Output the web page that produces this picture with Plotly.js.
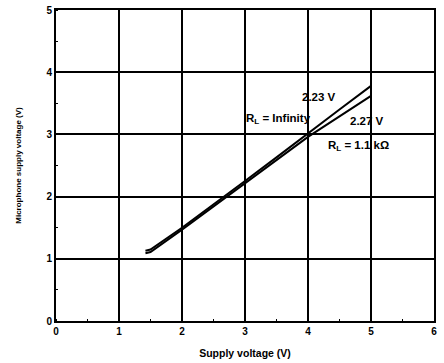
<!DOCTYPE html>
<html><head><meta charset="utf-8">
<script src="https://cdn.plot.ly/plotly-3.0.1.min.js"></script>
<style>html,body{margin:0;padding:0;background:#fff}#c{width:444px;height:363px}</style>
</head><body><div id="c"></div>
<script>
const supplyV = [1.42, 1.5, 2, 2.5, 3, 3.5, 4, 4.5, 5];
const micInfinity = [1.13, 1.15, 1.5, 1.87, 2.25, 2.63, 3.02, 3.4, 3.78];
const mic1k1 = [1.09, 1.11, 1.47, 1.84, 2.21, 2.59, 2.96, 3.29, 3.62];
const xTicks = [0, 1, 2, 3, 4, 5, 6];
const yTicks = [0, 1, 2, 3, 4, 5];
const labels = [
  {x: 4.17, y: 3.6, text: '2.23 V'},
  {x: 3.53, y: 3.24, text: 'R<sub>L</sub> = Infinity'},
  {x: 4.93, y: 3.22, text: '2.27 V'},
  {x: 4.8, y: 2.81, text: 'R<sub>L</sub> = 1.1 kΩ'}
];
const fam = 'Liberation Sans, Arial, sans-serif';
const fnt = {family: fam, size: 10, color: '#000', weight: 'bold'};
const traces = [
  {x: supplyV, y: micInfinity, mode: 'lines', line: {color: '#000', width: 2}, hoverinfo: 'skip'},
  {x: supplyV, y: mic1k1, mode: 'lines', line: {color: '#000', width: 2}, hoverinfo: 'skip'}
];
const axisBase = {
  showgrid: true, gridcolor: '#000', gridwidth: 2,
  showline: true, linecolor: '#000', linewidth: 2, mirror: true,
  zeroline: false, ticks: '', tickfont: fnt, fixedrange: true,
  minor: {ticks: 'inside', ticklen: 2, tickcolor: '#000', tickwidth: 1, dtick: 0.5, showgrid: false}
};
const layout = {
  width: 444, height: 363,
  margin: {l: 56, r: 10, t: 10, b: 42},
  paper_bgcolor: '#fff', plot_bgcolor: '#fff',
  showlegend: false,
  xaxis: Object.assign({}, axisBase, {range: [0, 6], tickvals: xTicks, ticktext: xTicks.map(String),
    title: {text: 'Supply voltage (V)', font: {family: fam, size: 10.5, color: '#000', weight: 'bold'}, standoff: 14}}),
  yaxis: Object.assign({}, axisBase, {range: [0, 5], tickvals: yTicks, ticktext: yTicks.map(String),
    title: {text: 'Microphone supply voltage (V)', font: {family: fam, size: 8, color: '#000', weight: 'bold'}, standoff: 24}}),
  annotations: labels.map(l => ({x: l.x, y: l.y, text: l.text, showarrow: false, font: {family: fam, size: 11.5, color: '#000', weight: 'bold'}, bgcolor: 'rgba(0,0,0,0)'}))
};
Plotly.newPlot('c', traces, layout, {staticPlot: true});
</script></body></html>
